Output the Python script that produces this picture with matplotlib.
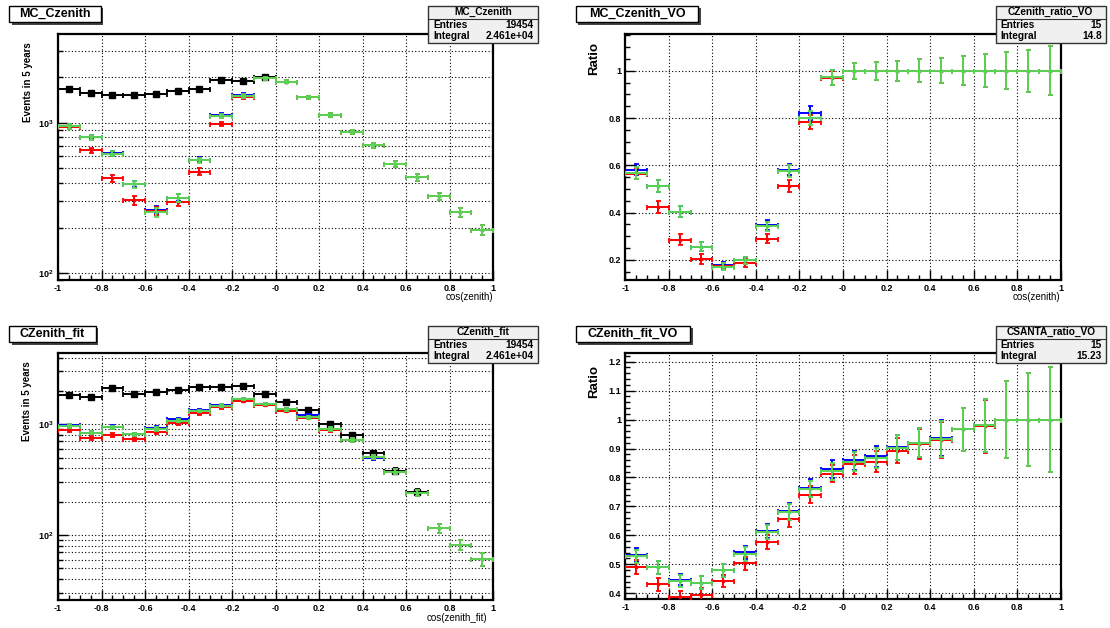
import matplotlib.pyplot as plt
import numpy as np
from matplotlib import rcParams
from matplotlib.patches import Rectangle
from matplotlib.ticker import (FixedLocator, FixedFormatter, LogLocator,
                               MultipleLocator, NullFormatter)

rcParams['font.family'] = 'Liberation Sans'
rcParams['mathtext.fontset'] = 'custom'
rcParams['mathtext.rm'] = 'Liberation Sans:bold'
rcParams['mathtext.it'] = 'Liberation Sans:bold'

W, H = 1110, 628
edges = np.linspace(-1, 1, 21)
centers = 0.5 * (edges[:-1] + edges[1:])

# ---- MC_Czenith (top left) ----
tl_black = [1667, 1568, 1528, 1528, 1552, 1617, 1667, 1933, 1885, 2005]
tl_black_err = [41, 40, 39, 39, 39, 40, 41, 44, 43, 45]
tl_blue = [952, 805, 628, 392, 264, 318, 570, 1120, 1528, 1980,
           1877, 1475, 1124, 871, 709, 535, 434, 324, 254, 194]
tl_red = [940, 657, 427, 305, 259, 298, 474, 985, 1482, 1970,
          1877, 1475, 1124, 871, 709, 535, 434, 324, 254, 194]
tl_green = [945, 802, 624, 390, 254, 316, 563, 1107, 1504, 1974,
            1877, 1475, 1124, 871, 709, 535, 434, 324, 254, 194]
tl_err = [31, 28, 25, 20, 16, 18, 24, 33, 39, 44,
          43, 38, 34, 30, 27, 23, 21, 18, 16, 14]

# ---- MC_Czenith_VO (top right) ----
tr_blue = [0.582, 0.513, 0.404, 0.256, 0.177, 0.197, 0.348, 0.582, 0.822, 0.972,
           1.0, 1.0, 1.0, 1.0, 1.0, 1.0, 1.0, 1.0, 1.0, 1.0]
tr_red = [0.565, 0.424, 0.285, 0.203, 0.173, 0.187, 0.289, 0.513, 0.782, 0.968,
          1.0, 1.0, 1.0, 1.0, 1.0, 1.0, 1.0, 1.0, 1.0, 1.0]
tr_green = [0.568, 0.513, 0.404, 0.256, 0.171, 0.197, 0.341, 0.575, 0.801, 0.972,
            1.0, 1.0, 1.0, 1.0, 1.0, 1.0, 1.0, 1.0, 1.0, 1.0]
tr_err = [0.025, 0.025, 0.023, 0.020, 0.014, 0.016, 0.020, 0.025, 0.030, 0.030,
          0.035, 0.039, 0.042, 0.049, 0.053, 0.061, 0.070, 0.079, 0.089, 0.103]

# ---- CZenith_fit (bottom left) ----
bl_black = [1841, 1753, 2141, 1879, 1945, 2042, 2188, 2188, 2233, 1867,
            1600, 1346, 1000, 796, 547, 381, 245]
bl_black_err = [43, 42, 46, 43, 44, 45, 47, 47, 47, 43, 40, 37, 32, 28, 23, 20, 16]
bl_blue = [985, 839, 950, 812, 928, 1109, 1346, 1494, 1683, 1530,
           1366, 1206, 907, 722, 500, 373, 238, 116, 82, 61]
bl_red = [888, 752, 806, 732, 846, 1021, 1257, 1424, 1634, 1494,
          1327, 1140, 888, 720, 505, 373, 240, 116, 82, 61]
bl_green = [965, 839, 940, 812, 907, 1078, 1318, 1472, 1683, 1530,
            1366, 1157, 907, 722, 510, 373, 238, 116, 82, 61]
bl_err = [31, 29, 31, 28, 30, 33, 36, 38, 41, 39,
          37, 34, 30, 27, 22, 19, 15, 11, 9, 8]

# ---- CZenith_fit_VO (bottom right) ----
br_blue = [0.532, 0.489, 0.447, 0.436, 0.479, 0.541, 0.615, 0.683, 0.765, 0.829,
           0.859, 0.873, 0.905, 0.920, 0.936, 0.966, 0.980, 1.0, 1.0, 1.0]
br_red = [0.491, 0.431, 0.387, 0.395, 0.442, 0.503, 0.577, 0.656, 0.741, 0.813,
          0.846, 0.855, 0.892, 0.916, 0.929, 0.966, 0.977, 1.0, 1.0, 1.0]
br_green = [0.528, 0.489, 0.442, 0.436, 0.479, 0.535, 0.612, 0.680, 0.760, 0.821,
            0.855, 0.867, 0.902, 0.920, 0.932, 0.966, 0.980, 1.0, 1.0, 1.0]
br_err = [0.023, 0.022, 0.020, 0.022, 0.022, 0.023, 0.023, 0.028, 0.029, 0.030,
          0.033, 0.036, 0.043, 0.051, 0.062, 0.073, 0.092, 0.132, 0.160, 0.182]

GREEN = '#59d454'

fig = plt.figure(figsize=(11.1, 6.28), dpi=100)


def px_rect(x0, y0, x1, y1):
    return [x0 / W, 1 - y1 / H, (x1 - x0) / W, (y1 - y0) / H]


def draw_hist(ax, vals, errs, color, ms, z, marker='s'):
    n = len(vals)
    ax.errorbar(centers[:n], vals, xerr=0.05, yerr=errs[:n], fmt=marker,
                color=color, ms=ms, mec=color, elinewidth=1.4, capsize=1.8,
                capthick=1.3, zorder=z)


def setup(ax, log, ylim):
    ax.set_xlim(-1, 1)
    ax.set_ylim(ylim)
    xt = np.round(np.arange(-1, 1.01, 0.2), 1)
    ax.xaxis.set_major_locator(FixedLocator(xt))
    ax.xaxis.set_major_formatter(FixedFormatter(['%g' % v for v in xt]))
    ax.xaxis.set_minor_locator(MultipleLocator(0.05))
    ax.tick_params(which='both', direction='in', top=False, right=False,
                   labelsize=6.5, pad=3)
    ax.tick_params(which='major', length=7, width=1)
    ax.tick_params(which='minor', length=3.5, width=1)
    for lbl in ax.get_xticklabels() + ax.get_yticklabels():
        lbl.set_fontweight('bold')
    for s in ax.spines.values():
        s.set_linewidth(1.6)
    gkw = dict(ls=(0, (1, 2)), lw=0.8, color='k')
    ax.xaxis.grid(True, which='major', **gkw)
    if log:
        ax.yaxis.grid(True, which='both', **gkw)
    else:
        ax.yaxis.grid(True, which='major', **gkw)
    ax.set_axisbelow(True)


def title_box(x0, y0, x1, y1, text):
    fig.patches.append(Rectangle((x0 / W + 2.5 / W, 1 - y1 / H - 2.5 / H),
                                 (x1 - x0) / W, (y1 - y0) / H,
                                 transform=fig.transFigure, fc='#444444',
                                 ec='none', zorder=1))
    fig.patches.append(Rectangle((x0 / W, 1 - y1 / H), (x1 - x0) / W,
                                 (y1 - y0) / H, transform=fig.transFigure,
                                 fc='white', ec='black', lw=1, zorder=2))
    fig.text((x0 + x1) / 2 / W, 1 - (y0 + y1) / 2 / H, text, ha='center',
             va='center', fontsize=9, fontweight='bold', zorder=3)


def stats_box(x0, y0, name, entries, integral):
    x1, y1 = x0 + 110, y0 + 37.6
    fig.patches.append(Rectangle((x0 / W, 1 - y1 / H), (x1 - x0) / W,
                                 (y1 - y0) / H, transform=fig.transFigure,
                                 fc='#f0f0f0', ec='#333333', lw=1, zorder=5))
    ys = y0 + 13.3
    fig.lines.append(plt.Line2D([x0 / W, x1 / W], [1 - ys / H, 1 - ys / H],
                                transform=fig.transFigure, color='#333333',
                                lw=0.8, zorder=6))
    kw = dict(fontsize=7.3, fontweight='bold', va='center', zorder=7)
    fig.text((x0 + x1) / 2 / W, 1 - (y0 + 6.5) / H, name, ha='center', **kw)
    fig.text((x0 + 5) / W, 1 - (y0 + 18.8) / H, 'Entries', ha='left', **kw)
    fig.text((x1 - 4) / W, 1 - (y0 + 18.8) / H, entries, ha='right', **kw)
    fig.text((x0 + 5) / W, 1 - (y0 + 30) / H, 'Integral', ha='left', **kw)
    fig.text((x1 - 4) / W, 1 - (y0 + 30) / H, integral, ha='right', **kw)


def log_ticks(ax):
    ax.set_yscale('log')
    ax.yaxis.set_major_locator(FixedLocator([100, 1000]))
    ax.yaxis.set_major_formatter(FixedFormatter([r'$10^{2}$', r'$10^{3}$']))
    ax.yaxis.set_minor_locator(LogLocator(base=10, subs=np.arange(2, 10),
                                          numticks=20))
    ax.yaxis.set_minor_formatter(NullFormatter())


# ---------- top left ----------
ax1 = fig.add_axes(px_rect(58, 33.5, 493, 280.3))
log_ticks(ax1)
draw_hist(ax1, tl_black, tl_black_err, 'black', 4, 3)
draw_hist(ax1, tl_blue, tl_err, 'blue', 1.6, 4)
draw_hist(ax1, tl_red, tl_err, 'red', 1.6, 5)
draw_hist(ax1, tl_green, tl_err, GREEN, 1.6, 6)
setup(ax1, True, (89.8, 3920))
ax1.text(-0.069, 0.966, 'Events in 5 years', transform=ax1.transAxes,
         rotation=90, ha='center', va='top', fontsize=7, fontweight='bold')
ax1.text(1.0, -0.068, 'cos(zenith)', transform=ax1.transAxes, ha='right',
         va='center', fontsize=7)

# ---------- top right ----------
ax2 = fig.add_axes(px_rect(625.3, 33.5, 1060.7, 280.3))
draw_hist(ax2, tr_blue, tr_err, 'blue', 1.6, 4)
draw_hist(ax2, tr_red, tr_err, 'red', 1.6, 5)
draw_hist(ax2, tr_green, tr_err, GREEN, 1.6, 6)
ax2.yaxis.set_major_locator(FixedLocator([0.2, 0.4, 0.6, 0.8, 1.0]))
ax2.yaxis.set_major_formatter(FixedFormatter(['0.2', '0.4', '0.6', '0.8', '1']))
ax2.yaxis.set_minor_locator(MultipleLocator(0.05))
setup(ax2, False, (0.113, 1.158))
ax2.text(-0.072, 0.966, 'Ratio', transform=ax2.transAxes, rotation=90,
         ha='center', va='top', fontsize=9.5, fontweight='bold')
ax2.text(1.0, -0.068, 'cos(zenith)', transform=ax2.transAxes, ha='right',
         va='center', fontsize=7)

# ---------- bottom left ----------
ax3 = fig.add_axes(px_rect(58, 353.3, 493, 600))
log_ticks(ax3)
draw_hist(ax3, bl_black, bl_black_err, 'black', 4, 3)
draw_hist(ax3, bl_blue, bl_err, 'blue', 1.6, 4)
draw_hist(ax3, bl_red, bl_err, 'red', 1.6, 5)
draw_hist(ax3, bl_green, bl_err, GREEN, 1.6, 6)
setup(ax3, True, (25.9, 4375))
ax3.text(-0.071, 0.966, 'Events in 5 years', transform=ax3.transAxes,
         rotation=90, ha='center', va='top', fontsize=7, fontweight='bold')
ax3.text(0.986, -0.073, 'cos(zenith_fit)', transform=ax3.transAxes,
         ha='right', va='center', fontsize=7)

# ---------- bottom right ----------
ax4 = fig.add_axes(px_rect(625.3, 353.3, 1060.7, 599.3))
draw_hist(ax4, br_blue, br_err, 'blue', 1.6, 4)
draw_hist(ax4, br_red, br_err, 'red', 1.6, 5)
draw_hist(ax4, br_green, br_err, GREEN, 1.6, 6)
yt = [0.4, 0.5, 0.6, 0.7, 0.8, 0.9, 1.0, 1.1, 1.2]
ax4.yaxis.set_major_locator(FixedLocator(yt))
ax4.yaxis.set_major_formatter(FixedFormatter(['%g' % v for v in yt]))
ax4.yaxis.set_minor_locator(MultipleLocator(0.02))
setup(ax4, False, (0.379, 1.229))
ax4.text(-0.072, 0.952, 'Ratio', transform=ax4.transAxes, rotation=90,
         ha='center', va='top', fontsize=9.5, fontweight='bold')

# ---------- titles and stat boxes ----------
title_box(9, 5.7, 100.7, 22.3, 'MC_Czenith')
title_box(575.7, 5.7, 698.3, 22.3, 'MC_Czenith_VO')
title_box(9, 325.7, 95.7, 342.3, 'CZenith_fit')
title_box(575.7, 325.7, 690, 342.3, 'CZenith_fit_VO')

stats_box(428, 5.7, 'MC_Czenith', '19454', '2.461e+04')
stats_box(995.7, 5.7, 'CZenith_ratio_VO', '15', '14.8')
stats_box(428, 325.7, 'CZenith_fit', '19454', '2.461e+04')
stats_box(995.7, 325.7, 'CSANTA_ratio_VO', '15', '15.23')

fig.savefig('out.png', dpi=100)
